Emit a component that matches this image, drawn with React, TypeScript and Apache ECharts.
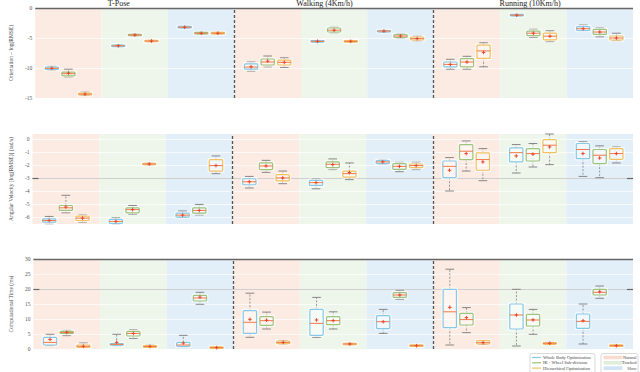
import React, { useEffect, useRef } from "react";
import * as echarts from "echarts";

const groups = ["T-Pose", "Walking (4Km/h)", "Running (10Km/h)"];
const methods = ["Whole Body Optimization", "IK - Wheel Sub-division", "Hierarchical Optimization"];
const conditions = ["Natural", "Tracked", "Slow"];

// rows: [min, q1, median, q3, max, mean] for 9 bins (3 motions x 3 conditions)
const orientWB = [
  [-10.4, -10.25, -10.05, -9.85, -9.7, -10.05],
  [-6.45, -6.38, -6.3, -6.22, -6.15, -6.3],
  [-3.35, -3.28, -3.2, -3.12, -3.05, -3.2],
  [-10.5, -10.2, -9.85, -9.3, -9.0, -9.8],
  [-5.7, -5.65, -5.55, -5.45, -5.4, -5.55],
  [-4.05, -4.0, -3.85, -3.75, -3.7, -3.85],
  [-10.2, -9.8, -9.4, -9.0, -8.55, -9.4],
  [-1.3, -1.25, -1.2, -1.15, -1.1, -1.2],
  [-3.8, -3.75, -3.45, -3.1, -2.83, -3.45],
];
const orientIK = [
  [-11.5, -11.3, -10.95, -10.7, -10.2, -10.85],
  [-4.65, -4.6, -4.5, -4.4, -4.35, -4.5],
  [-4.35, -4.28, -4.2, -4.12, -4.05, -4.2],
  [-9.8, -9.5, -9.0, -8.5, -8.0, -8.85],
  [-4.17, -4.0, -3.7, -3.33, -3.17, -3.7],
  [-5.08, -4.92, -4.67, -4.42, -4.25, -4.67],
  [-10.2, -9.8, -9.0, -8.45, -8.05, -9.0],
  [-4.9, -4.6, -4.2, -3.85, -3.55, -4.2],
  [-4.8, -4.4, -4.0, -3.55, -3.3, -4.0],
];
const orientHO = [
  [-14.6, -14.5, -14.35, -14.2, -14.0, -14.35],
  [-5.65, -5.6, -5.5, -5.4, -5.35, -5.5],
  [-4.35, -4.28, -4.2, -4.12, -4.05, -4.2],
  [-9.9, -9.5, -9.05, -8.7, -8.3, -9.05],
  [-5.7, -5.65, -5.55, -5.45, -5.4, -5.55],
  [-5.5, -5.33, -5.1, -4.83, -4.67, -5.1],
  [-9.8, -8.4, -7.15, -6.2, -5.8, -7.4],
  [-5.6, -5.3, -4.7, -4.2, -3.8, -4.7],
  [-5.45, -5.33, -5.0, -4.67, -4.2, -5.0],
];

const angWB = [
  [-6.48, -6.36, -6.23, -6.1, -5.92, -6.23],
  [-6.5, -6.45, -6.3, -6.15, -6.02, -6.3],
  [-5.98, -5.97, -5.82, -5.67, -5.5, -5.82],
  [-3.74, -3.49, -3.26, -3.03, -2.85, -3.26],
  [-3.8, -3.54, -3.33, -3.15, -3.03, -3.33],
  [-1.92, -1.87, -1.74, -1.64, -1.56, -1.74],
  [-3.97, -2.95, -2.08, -1.67, -1.41, -2.38],
  [-2.59, -1.74, -1.03, -0.67, -0.41, -1.28],
  [-2.85, -1.49, -0.79, -0.33, -0.18, -1.1],
];
const angIK = [
  [-5.64, -5.46, -5.26, -5.08, -4.3, -5.2],
  [-5.77, -5.64, -5.4, -5.26, -5.08, -5.4],
  [-5.8, -5.67, -5.46, -5.26, -5.0, -5.46],
  [-2.54, -2.33, -2.05, -1.82, -1.62, -2.05],
  [-2.33, -2.18, -1.92, -1.74, -1.51, -1.95],
  [-2.49, -2.31, -2.08, -1.87, -1.77, -2.08],
  [-2.44, -1.56, -0.92, -0.41, -0.13, -1.1],
  [-2.13, -1.67, -1.1, -0.72, -0.33, -1.15],
  [-2.95, -1.87, -1.23, -0.79, -0.51, -1.44],
];
const angHO = [
  [-6.36, -6.23, -6.05, -5.9, -5.8, -6.05],
  [-1.98, -1.95, -1.9, -1.85, -1.82, -1.9],
  [-2.64, -2.44, -2.02, -1.56, -1.28, -2.02],
  [-3.41, -3.2, -2.97, -2.72, -2.44, -2.97],
  [-3.1, -2.9, -2.64, -2.44, -1.82, -2.56],
  [-2.33, -2.18, -2.02, -1.9, -1.77, -2.02],
  [-3.18, -2.38, -1.56, -1.05, -0.72, -1.74],
  [-1.95, -1.03, -0.46, -0.03, 0.4, -0.59],
  [-1.82, -1.54, -1.1, -0.72, -0.59, -1.1],
];

const timeWB = [
  [1.1, 1.33, 2.2, 3.9, 4.9, 3.2],
  [1.1, 1.33, 1.55, 1.8, 4.9, 2.2],
  [0.67, 0.9, 1.33, 2.2, 4.55, 2.0],
  [3.9, 5.2, 8.9, 12.8, 18.6, 9.9],
  [3.9, 4.55, 8.55, 13.2, 17.2, 9.67],
  [5.2, 6.8, 9.1, 11.1, 13.2, 9.1],
  [1.33, 7.1, 12.4, 19.9, 26.6, 13.9],
  [1.0, 6.67, 11.33, 15.0, 19.9, 11.33],
  [1.67, 6.9, 9.2, 11.67, 15.0, 9.45],
];
const timeIK = [
  [4.45, 5.2, 5.55, 5.9, 6.2, 5.55],
  [3.55, 4.33, 5.2, 5.9, 6.45, 5.2],
  [14.9, 16.0, 17.0, 17.9, 18.9, 17.3],
  [6.67, 7.9, 9.45, 10.8, 12.3, 9.6],
  [6.67, 8.1, 9.45, 10.8, 12.4, 9.45],
  [16.55, 17.2, 18.0, 18.8, 19.55, 18.0],
  [5.45, 8.0, 9.8, 11.9, 13.8, 10.45],
  [4.9, 7.67, 9.67, 11.55, 13.2, 9.7],
  [16.9, 18.0, 18.9, 19.9, 21.0, 19.1],
];
const timeHO = [
  [0.45, 0.55, 0.9, 1.33, 2.0, 0.9],
  [0.45, 0.55, 0.85, 1.1, 1.45, 0.85],
  [0.3, 0.38, 0.45, 0.52, 0.6, 0.45],
  [1.55, 1.78, 2.2, 2.67, 2.9, 2.2],
  [1.4, 1.5, 1.67, 1.85, 1.95, 1.67],
  [0.9, 1.0, 1.1, 1.2, 1.3, 1.1],
  [1.5, 1.67, 2.1, 2.78, 2.9, 2.1],
  [1.4, 1.55, 1.9, 2.1, 2.3, 1.9],
  [0.9, 1.0, 1.1, 1.2, 1.3, 1.1],
];

const orientTicks = [0, -5, -10, -15];
const angTicks = [0, -1, -2, -3, -4, -5, -6];
const timeTicks = [0, 5, 10, 15, 20, 25, 30];

const FONT = "Liberation Serif";
const methodColors = ["#86c9e6", "#9cc47c", "#f2c262"];
const spanColors = ["#fcebe3", "#eef6ec", "#e2eef8"];
const legendSpanColors = ["#f9dccf", "#dfeeda", "#cfe3f3"];

const GRID_LEFT = 16;
const GRID_RIGHT = 7;
const PLOT_W = 640 - GRID_LEFT - GRID_RIGHT;
const NBINS = 9;
const BOX_W = 0.2;
const CAP_W = 0.13;

const panels = [
  { top: 8, min: -15, max: 0, interval: 5, ticks: orientTicks, name: "Orientation – log(RMSE)", data: [orientWB, orientIK, orientHO], dark: 0 as number | null, ref: null as number | null },
  { top: 134, min: -6.5, max: 0.4, interval: null as number | null, ticks: angTicks, name: "Angular Velocity [log(RMSE)] (rad/s)", data: [angWB, angIK, angHO], dark: null, ref: -3 },
  { top: 259, min: 0, max: 30, interval: 5, ticks: timeTicks, name: "Computational Time (ms)", data: [timeWB, timeIK, timeHO], dark: 30, ref: 20 },
];

function boxRender(color: string) {
  return (params: any, api: any) => {
    const x = api.value(0);
    const mn = api.value(1), q1 = api.value(2), md = api.value(3), q3 = api.value(4), mx = api.value(5), mean = api.value(6);
    const cx = api.coord([x, md])[0];
    const yMin = api.coord([x, mn])[1];
    const yQ1 = api.coord([x, q1])[1];
    const yMd = api.coord([x, md])[1];
    const yQ3 = api.coord([x, q3])[1];
    const yMax = api.coord([x, mx])[1];
    const yMean = api.coord([x, mean])[1];
    const hw = api.size([BOX_W, 0])[0] / 2;
    const cw = api.size([CAP_W, 0])[0] / 2;
    let top = Math.min(yQ1, yQ3);
    let h = Math.abs(yQ1 - yQ3);
    if (h < 1.5) { top -= (1.5 - h) / 2; h = 1.5; }
    const whisk = { stroke: "#8c8c8c", lineWidth: 0.9, lineDash: [2, 1.5] };
    const cap = { stroke: "#7a7a7a", lineWidth: 0.9 };
    const m = 1.8;
    return {
      type: "group",
      children: [
        { type: "line", shape: { x1: cx, y1: yQ3, x2: cx, y2: yMax }, style: whisk },
        { type: "line", shape: { x1: cx, y1: yQ1, x2: cx, y2: yMin }, style: whisk },
        { type: "line", shape: { x1: cx - cw, y1: yMax, x2: cx + cw, y2: yMax }, style: cap },
        { type: "line", shape: { x1: cx - cw, y1: yMin, x2: cx + cw, y2: yMin }, style: cap },
        { type: "rect", shape: { x: cx - hw - 1, y: top - 1, width: 2 * hw + 2, height: h + 2, r: 1.5 }, style: { fill: "none", stroke: "rgba(255,255,255,0.7)", lineWidth: 1.5 } },
        { type: "rect", shape: { x: cx - hw, y: top, width: 2 * hw, height: h, r: 1 }, style: { fill: "rgba(255,255,255,0.5)", stroke: color, lineWidth: 1.2 } },
        { type: "line", shape: { x1: cx - hw, y1: yMd, x2: cx + hw, y2: yMd }, style: { stroke: "#f07a4a", lineWidth: 1 } },
        { type: "line", shape: { x1: cx - m, y1: yMean, x2: cx + m, y2: yMean }, style: { stroke: "#e4472d", lineWidth: 1 } },
        { type: "line", shape: { x1: cx, y1: yMean - m, x2: cx, y2: yMean + m }, style: { stroke: "#e4472d", lineWidth: 1 } },
      ],
    };
  };
}

function spanRender(params: any, api: any) {
  const i = api.value(0);
  const cs = params.coordSys;
  const x0 = api.coord([i, 0])[0];
  const w = api.size([1, 0])[0];
  return {
    type: "rect",
    shape: { x: x0, y: cs.y, width: w, height: cs.height },
    style: { fill: spanColors[i % 3] },
  };
}

function buildOption() {
  const grid: any[] = [];
  const xAxis: any[] = [];
  const yAxis: any[] = [];
  const series: any[] = [];
  const bins = Array.from({ length: NBINS }, (_, i) => i);

  panels.forEach((p, pi) => {
    grid.push({ left: GRID_LEFT, right: GRID_RIGHT, top: p.top, height: 90, containLabel: false });
    xAxis.push({ type: "value", gridIndex: pi, min: 0, max: NBINS, show: false, splitLine: { show: false } });
    const ya: any = {
      type: "value",
      gridIndex: pi,
      min: p.min,
      max: p.max,
      name: p.name,
      nameLocation: "middle",
      nameGap: 11,
      nameRotate: 90,
      nameTextStyle: { fontSize: 5.5, color: "#444", fontFamily: FONT },
      axisLine: { show: false },
      axisTick: { show: false },
      splitLine: { show: false },
      axisLabel: { fontSize: 5.5, color: "#555", fontFamily: FONT, margin: 3, customValues: p.ticks },
    };
    if (p.interval != null) ya.interval = p.interval;
    yAxis.push(ya);

    const mlData: any[] = [];
    p.ticks.forEach((t) => mlData.push({ yAxis: t, lineStyle: { color: "#ffffff", width: 0.8, type: "solid", opacity: 0.85 } }));
    if (p.ref != null) {
      mlData.push({ yAxis: p.ref, lineStyle: { color: "#cfcfcf", width: 1, type: "solid" } });
      mlData.push([{ coord: [0, p.ref], lineStyle: { color: "#666", width: 1.2, type: "solid" } }, { coord: [0.09, p.ref] }]);
      mlData.push([{ coord: [NBINS - 0.09, p.ref], lineStyle: { color: "#666", width: 1.2, type: "solid" } }, { coord: [NBINS, p.ref] }]);
    }
    [3, 6].forEach((v) => mlData.push({ xAxis: v, lineStyle: { color: "#555", width: 1.3, type: [3, 2] } }));
    if (p.dark != null) mlData.push({ yAxis: p.dark, lineStyle: { color: "#666", width: 1.3, type: "solid" } });

    series.push({
      type: "custom",
      xAxisIndex: pi,
      yAxisIndex: pi,
      z: 1,
      silent: true,
      renderItem: spanRender,
      data: bins.map((i) => [i]),
      markLine: {
        silent: true,
        symbol: ["none", "none"],
        label: { show: false },
        animation: false,
        data: mlData,
      },
    });

    p.data.forEach((rows, mi) => {
      series.push({
        type: "custom",
        name: methods[mi],
        xAxisIndex: pi,
        yAxisIndex: pi,
        z: 10,
        silent: true,
        renderItem: boxRender(methodColors[mi]),
        encode: { x: 0, y: [1, 2, 3, 4, 5, 6] },
        data: rows.map((r, bi) => [bi + 0.5 + (mi - 1) * 0.25, ...r]),
      });
    });
  });

  const graphic: any[] = [];
  groups.forEach((g, gi) => {
    graphic.push({
      type: "text",
      x: GRID_LEFT + ((gi * 3 + 1.5) / NBINS) * PLOT_W,
      y: -1,
      style: { text: g, fontSize: 8, fontFamily: FONT, fill: "#222", align: "center", verticalAlign: "top" },
    });
  });
  // legend boxes
  graphic.push({ type: "rect", shape: { x: 530, y: 353.5, width: 65, height: 22, r: 2 }, style: { fill: "#fff", stroke: "#cfcfcf", lineWidth: 0.8 } });
  methods.forEach((m, i) => {
    const y = 357.5 + i * 5.3;
    graphic.push({ type: "line", shape: { x1: 532, y1: y, x2: 541, y2: y }, style: { stroke: methodColors[i], lineWidth: 1.2 } });
    graphic.push({ type: "text", x: 543, y, style: { text: m, fontSize: 4.5, fontFamily: FONT, fill: "#444", verticalAlign: "middle" } });
  });
  graphic.push({ type: "rect", shape: { x: 601, y: 353.5, width: 37, height: 22, r: 2 }, style: { fill: "#fff", stroke: "#cfcfcf", lineWidth: 0.8 } });
  conditions.forEach((c, i) => {
    const y = 357.5 + i * 5.3;
    graphic.push({ type: "rect", shape: { x: 603.5, y: y - 1.8, width: 19, height: 3.6 }, style: { fill: legendSpanColors[i] } });
    graphic.push({ type: "text", x: 636.5, y, style: { text: c, fontSize: 4.5, fontFamily: FONT, fill: "#444", align: "right", verticalAlign: "middle" } });
  });

  return {
    animation: false,
    backgroundColor: "#ffffff",
    textStyle: { fontFamily: FONT },
    grid,
    xAxis,
    yAxis,
    series,
    graphic,
  };
}

export default function App() {
  const ref = useRef<HTMLDivElement>(null);
  useEffect(() => {
    if (!ref.current) return;
    const chart = echarts.init(ref.current, undefined, { renderer: "svg" });
    chart.setOption(buildOption() as any);
    return () => chart.dispose();
  }, []);
  return <div ref={ref} style={{ position: "fixed", left: 0, top: 0, width: 640, height: 372 }} />;
}
